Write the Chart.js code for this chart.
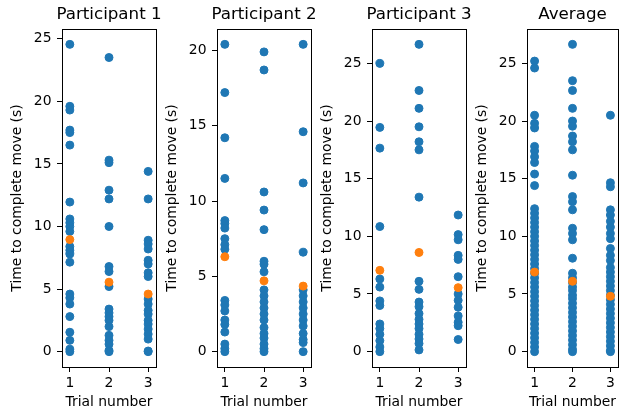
<!DOCTYPE html>
<html>
<head>
<meta charset="utf-8">
<script src="https://cdn.jsdelivr.net/npm/chart.js@4"></script>
<style>
  body { margin: 0; background: #fff; }
  #wrap { position: relative; width: 623px; height: 412px; }
  canvas { position: absolute; left: 0; top: 0; }
</style>
</head>
<body>
<div id="wrap">
  <canvas id="c1" width="623" height="412"></canvas>
  <canvas id="c2" width="623" height="412"></canvas>
  <canvas id="c3" width="623" height="412"></canvas>
  <canvas id="c4" width="623" height="412"></canvas>
</div>
<script>
const trials = [1, 2, 3]
const xTicks = [1, 2, 3]
const yTicks = [0, 5, 10, 15, 20, 25]
const titles = ["Participant 1", "Participant 2", "Participant 3", "Average"]

// times per trial (s), one list per trial number
const p1Times = [
  [24.55, 19.6, 19.3, 17.7, 17.5, 16.5, 11.95, 10.6, 10.3, 10.0, 9.6, 8.4, 8.1, 7.8, 7.15, 4.6, 4.3, 3.8, 2.8, 1.55, 0.9, 0.2, 0],
  [23.5, 15.3, 15.1, 12.9, 12.2, 10.0, 6.8, 6.4, 5.2, 3.4, 3.1, 2.8, 2.5, 2.0, 1.3, 0.9, 0.6, 0.1, 0],
  [14.4, 12.2, 8.9, 8.6, 8.2, 7.3, 7.0, 6.3, 6.0, 4.2, 3.8, 3.3, 3.0, 2.5, 2.2, 1.8, 1.4, 1.0, 0.05, 0]
]
const p1Means = [8.95, 5.55, 4.6]

const p2Times = [
  [20.4, 17.2, 14.2, 11.5, 8.7, 8.5, 8.2, 7.5, 7.1, 6.8, 3.4, 3.1, 2.7, 2.1, 1.8, 1.3, 0.5, 0.2, 0],
  [19.9, 18.7, 10.6, 9.4, 8.1, 6.0, 5.8, 5.3, 4.1, 3.7, 3.3, 2.9, 2.5, 2.1, 1.6, 1.2, 0.9, 0.5, 0.2, 0],
  [20.4, 14.6, 11.2, 6.6, 4.1, 3.7, 3.3, 2.9, 2.5, 2.1, 1.7, 1.2, 0.8, 0.6, 0]
]
const p2Means = [6.3, 4.7, 4.35]

const p3Times = [
  [25.0, 19.45, 17.65, 10.85, 6.3, 5.6, 4.4, 4.0, 2.4, 2.0, 1.5, 0.95, 0.4, 0],
  [26.65, 22.65, 21.1, 19.5, 18.2, 17.5, 13.4, 6.1, 5.4, 4.3, 3.9, 3.3, 2.8, 2.4, 2.0, 1.5, 1.1, 0.7, 0.15],
  [11.85, 10.15, 9.7, 8.35, 8.0, 6.5, 5.0, 4.45, 3.85, 3.1, 2.55, 2.25, 1.05]
]
const p3Means = [7.05, 8.6, 5.55]

const avgTimes = [
  [25.2, 24.6, 20.5, 19.8, 19.4, 17.8, 17.4, 16.9, 16.4, 15.4, 14.4, 12.4, 12.0, 11.6, 11.2, 10.8, 10.4, 10.0, 9.6, 9.2, 8.8, 8.4, 8.0, 7.6, 7.2, 6.8, 6.4, 6.0, 5.6, 5.2, 4.8, 4.4, 4.0, 3.6, 3.2, 2.8, 2.4, 2.0, 1.6, 1.2, 0.8, 0.4, 0],
  [26.65, 23.5, 22.65, 21.1, 20.0, 19.55, 18.7, 18.2, 17.5, 15.3, 13.45, 13.0, 12.3, 10.7, 10.25, 9.7, 8.1, 6.8, 6.4, 6.0, 5.6, 5.3, 4.9, 4.6, 4.2, 3.8, 3.4, 3.0, 2.6, 2.2, 1.8, 1.4, 1.0, 0.6, 0.2, 0],
  [20.5, 14.65, 14.3, 12.3, 11.85, 11.3, 10.8, 10.25, 9.8, 8.95, 8.35, 7.9, 7.3, 6.9, 6.5, 6.1, 5.7, 5.3, 4.9, 4.5, 4.1, 3.7, 3.3, 2.9, 2.5, 2.1, 1.7, 1.3, 0.9, 0.5, 0.1, 0]
]
const avgMeans = [6.9, 6.1, 4.8]

Chart.defaults.font.family = "'DejaVu Sans'"
Chart.defaults.color = "#000"

const BLUE = "#1f77b4"
const ORANGE = "#ff7f0e"
const TICK_FONT = 13.9

// black box around the plot area plus the panel title (no width squeeze)
const frame = {
  id: "frame",
  afterDraw(chart, args, opts) {
    const {ctx, chartArea: a} = chart
    const x0 = Math.round(a.left - 0.5) + 0.5
    const y0 = Math.round(a.top - 0.5) + 0.5
    const x1 = Math.round(a.right - 0.5) + 0.5
    const y1 = Math.round(a.bottom - 0.5) + 0.5
    ctx.save()
    ctx.strokeStyle = "#000"
    ctx.lineWidth = 1
    ctx.strokeRect(x0, y0, x1 - x0, y1 - y0)
    ctx.fillStyle = "#000"
    ctx.font = "16.7px 'DejaVu Sans'"
    ctx.textAlign = "center"
    ctx.textBaseline = "alphabetic"
    ctx.fillText(opts.text, (a.left + a.right) / 2, 18.7)
    ctx.restore()
  }
}

function makeChart(id, title, times, means, left) {
  const width = 94
  const top = Math.max(...times.flat())
  const yMin = -0.05 * top
  const yMax = top * 1.05

  const points = times.flatMap((col, i) => col.map((v) => ({x: trials[i], y: v})))
  const meanPoints = means.map((v, i) => ({x: trials[i], y: v}))

  return new Chart(document.getElementById(id), {
    type: "scatter",
    data: {
      datasets: [
        {data: meanPoints, backgroundColor: ORANGE, borderColor: ORANGE, borderWidth: 1, pointRadius: 4},
        {data: points, backgroundColor: BLUE, borderColor: BLUE, borderWidth: 1, pointRadius: 4}
      ]
    },
    options: {
      responsive: false,
      animation: false,
      events: [],
      layout: {padding: {left: left - 60, right: 623 - left - width, top: 29, bottom: 1}},
      plugins: {
        legend: {display: false},
        tooltip: {enabled: false},
        frame: {text: title}
      },
      scales: {
        x: {
          type: "linear",
          min: 0.8,
          max: 3.2,
          afterBuildTicks: (s) => { s.ticks = xTicks.map((v) => ({value: v})) },
          afterFit: (s) => { s.height = 44 },
          grid: {drawOnChartArea: false, color: "#000", tickLength: 5},
          border: {display: false},
          ticks: {color: "#000", padding: 3, font: {size: TICK_FONT}},
          title: {display: true, text: "Trial number", color: "#000", font: {size: TICK_FONT}, padding: {top: 0, bottom: 0}}
        },
        y: {
          type: "linear",
          min: yMin,
          max: yMax,
          afterBuildTicks: (s) => { s.ticks = yTicks.filter((v) => v <= yMax).map((v) => ({value: v})) },
          afterFit: (s) => { s.width = 60 },
          grid: {drawOnChartArea: false, color: "#000", tickLength: 5},
          border: {display: false},
          ticks: {color: "#000", padding: 5.5, font: {size: TICK_FONT}},
          title: {display: true, text: "Time to complete move (s)", color: "#000", font: {size: TICK_FONT}, padding: {top: 6.66, bottom: 0}}
        }
      }
    },
    plugins: [frame]
  })
}

makeChart("c1", titles[0], p1Times, p1Means, 62)
makeChart("c2", titles[1], p2Times, p2Means, 217)
makeChart("c3", titles[2], p3Times, p3Means, 372)
makeChart("c4", titles[3], avgTimes, avgMeans, 527)
</script>
</body>
</html>
